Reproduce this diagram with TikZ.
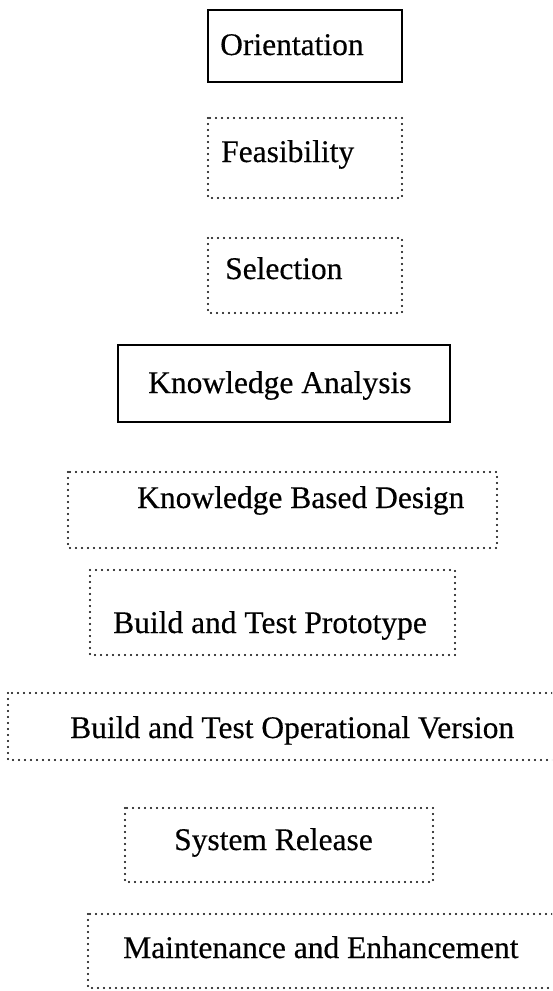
\documentclass[tikz,border=0pt]{standalone}
\usepackage{fontspec}
\setmainfont[FakeBold=0.4]{Liberation Serif}
\begin{document}
\begin{tikzpicture}[x=1pt,y=-1pt,
  solidbox/.style={draw=black,line width=2.6pt},
  dotbox/.style={draw=black,line width=2.4pt,line cap=round,dash pattern=on 0pt off 6pt},
  phase/.style={anchor=base west,inner sep=0pt,font=\fontsize{31.5}{36}\selectfont}]
\useasboundingbox (0,0) rectangle (552,991);
\clip (0,0) rectangle (552,991);
\fill[white] (0,0) rectangle (552,991);

% phase boxes
\draw[solidbox] (208,10) rectangle (402,82);
\draw[dotbox] (208,118) rectangle (402,198);
\draw[dotbox] (208,238) rectangle (402,313);
\draw[solidbox] (118,345) rectangle (450,422);
\draw[dotbox] (68,472) rectangle (497,548);
\draw[dotbox] (90,570) rectangle (455,655);
\draw[dotbox] (8,693) rectangle (570,760);
\draw[dotbox] (125,808) rectangle (433,882);
\draw[dotbox] (88,914) rectangle (570,988);

% phase names
\node[phase] (orient) at (220,55) {Orientation};
\node[phase] (feas) at (221,162) {Feasibility};
\node[phase] (sel) at (225,279) {Selection};
\node[phase] (ka) at (148,393) {Knowledge Analysis};
\node[phase] (kbd) at (137,508) {Knowledge Based Design};
\node[phase] (btp) at (113,633) {Build and Test Prototype};
\node[phase] (btov) at (70,738) {Build and Test Operational Version};
\node[phase] (sr) at (174,850) {System Release};
\node[phase] (me) at (123,958) {Maintenance and Enhancement};
\end{tikzpicture}
\end{document}
